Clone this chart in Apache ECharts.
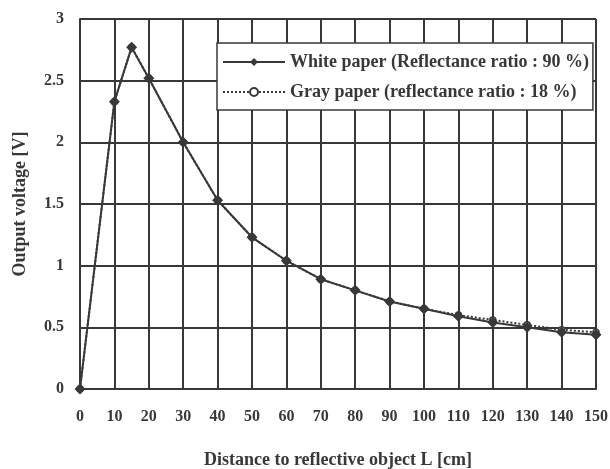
<!DOCTYPE html>
<html>
<head>
<meta charset="utf-8">
<script src="https://cdn.jsdelivr.net/npm/echarts@6/dist/echarts.min.js"></script>
<style>
  html, body { margin: 0; padding: 0; background: #fff; }
  #chart { width: 610px; height: 469px; }
</style>
</head>
<body>
<div id="chart"></div>
<script>
// distances (cm) and output voltages (V)
const distances = [0, 10, 15, 20, 30, 40, 50, 60, 70, 80, 90, 100, 110, 120, 130, 140, 150];
const whitePaper = [0, 2.33, 2.77, 2.52, 2.0, 1.53, 1.23, 1.04, 0.89, 0.8, 0.71, 0.65, 0.59, 0.54, 0.5, 0.46, 0.44];
const grayPaper = [0, 2.33, 2.77, 2.52, 2.0, 1.53, 1.23, 1.04, 0.89, 0.8, 0.71, 0.65, 0.6, 0.56, 0.52, 0.48, 0.46];
const seriesNames = ["White paper (Reflectance ratio : 90 %)", "Gray paper (reflectance ratio : 18 %)"];

const font = "Liberation Serif";
const ink = "#383838";

const chart = echarts.init(document.getElementById("chart"));
chart.setOption({
  animation: false,
  backgroundColor: "#fff",
  grid: { left: 80, right: 14, top: 19, bottom: 80, outerBoundsMode: "none" },
  legend: {
    orient: "vertical",
    left: 217,
    top: 43,
    padding: [10, 4, 9, 5],
    itemGap: 12,
    itemWidth: 62,
    itemHeight: 10,
    backgroundColor: "#fff",
    borderColor: ink,
    borderWidth: 1.5,
    borderRadius: 0,
    textStyle: { fontFamily: font, fontSize: 18, fontWeight: "bold", color: ink },
    data: seriesNames,
  },
  xAxis: {
    type: "value",
    min: 0,
    max: 150,
    interval: 10,
    name: "Distance to reflective object L [cm]",
    nameLocation: "middle",
    nameGap: 62,
    nameTextStyle: { fontFamily: font, fontSize: 18, fontWeight: "bold", color: ink },
    axisLine: { show: true, lineStyle: { color: ink, width: 2 } },
    axisTick: { show: false },
    axisLabel: { fontFamily: font, fontSize: 16, fontWeight: "bold", color: ink, margin: 20 },
    splitLine: { show: true, lineStyle: { color: ink, width: 2 } },
  },
  yAxis: {
    type: "value",
    min: 0,
    max: 3,
    interval: 0.5,
    name: "Output voltage [V]",
    nameLocation: "middle",
    nameGap: 51,
    nameTextStyle: { fontFamily: font, fontSize: 18, fontWeight: "bold", color: ink },
    axisLine: { show: true, lineStyle: { color: ink, width: 2 } },
    axisTick: { show: false },
    axisLabel: { fontFamily: font, fontSize: 16, fontWeight: "bold", color: ink, margin: 16 },
    splitLine: { show: true, lineStyle: { color: ink, width: 2 } },
  },
  series: [
    {
      name: seriesNames[1],
      type: "line",
      data: distances.map((d, i) => [d, grayPaper[i]]),
      symbol: "circle",
      symbolSize: 6,
      showSymbol: true,
      itemStyle: { color: "#fff", borderColor: ink, borderWidth: 1.5 },
      lineStyle: { color: ink, width: 2, type: "dotted" },
      z: 2,
    },
    {
      name: seriesNames[0],
      type: "line",
      data: distances.map((d, i) => [d, whitePaper[i]]),
      symbol: "diamond",
      symbolSize: 11,
      itemStyle: { color: ink },
      lineStyle: { color: ink, width: 2 },
      z: 3,
    },
  ],
});
</script>
</body>
</html>
